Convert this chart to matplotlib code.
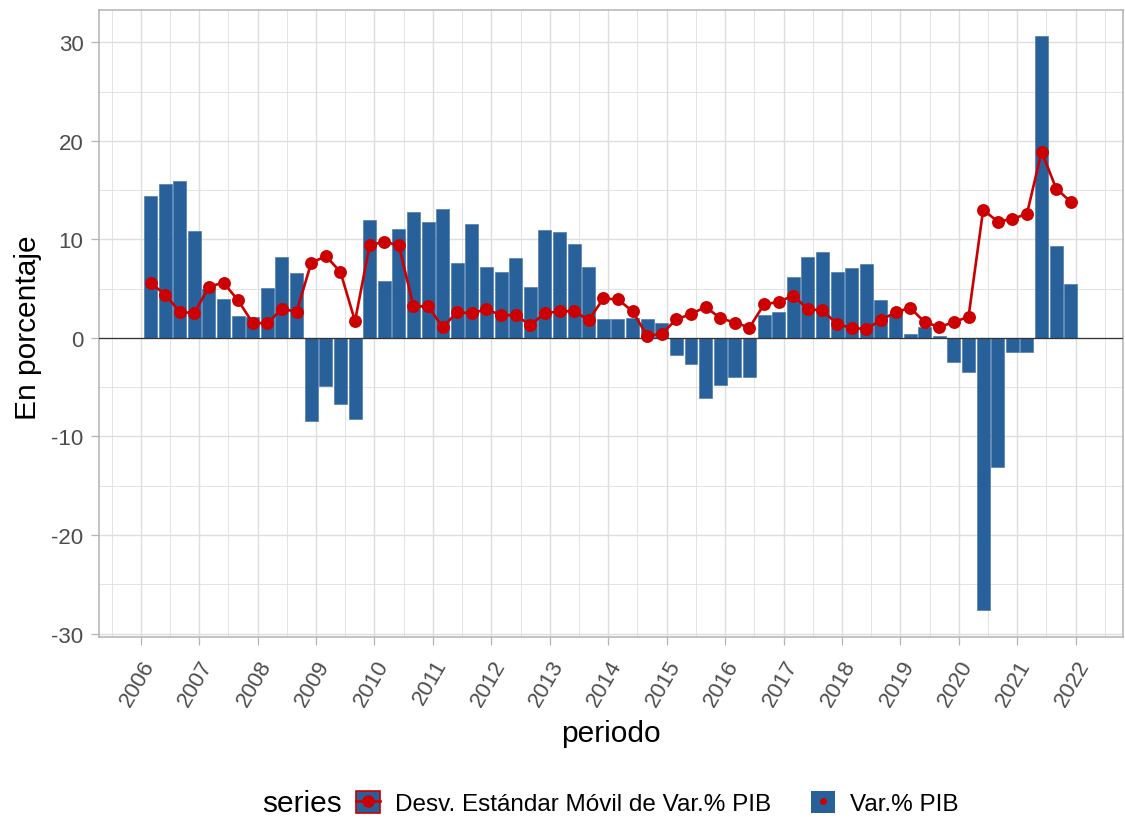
import matplotlib
matplotlib.use("Agg")
import matplotlib.pyplot as plt
from matplotlib.patches import Patch
from matplotlib.lines import Line2D
from matplotlib.ticker import MultipleLocator

plt.rcParams['font.family'] = ['Liberation Sans', 'DejaVu Sans']
plt.rcParams['axes.unicode_minus'] = False

# ---- data -------------------------------------------------------------
years = list(range(2006, 2022))
quarter_months = [3, 6, 9, 12]

var_pib = [
    14.4, 15.6, 15.9, 10.8,
    5.0, 3.9, 2.2, 2.1,
    5.1, 8.2, 6.6, -8.4,
    -4.9, -6.7, -8.2, 11.95,
    5.8, 11.0, 12.8, 11.8,
    13.1, 7.6, 11.6, 7.2,
    6.7, 8.1, 5.15, 10.9,
    10.7, 9.5, 7.2, 1.9,
    1.9, 2.0, 1.95, 1.5,
    -1.75, -2.7, -6.05, -4.75,
    -4.0, -4.0, 2.3, 2.6,
    6.2, 8.2, 8.75, 6.65,
    7.1, 7.45, 3.8, 2.4,
    0.4, 1.1, 0.15, -2.45,
    -3.5, -27.6, -13.1, -1.4,
    -1.4, 30.6, 9.3, 5.45,
]

desv_movil = [
    5.6, 4.4, 2.65, 2.5,
    5.2, 5.6, 3.8, 1.5,
    1.5, 2.95, 2.65, 7.6,
    8.3, 6.7, 1.7, 9.4,
    9.75, 9.4, 3.2, 3.2,
    1.1, 2.6, 2.5, 2.9,
    2.3, 2.3, 1.3, 2.5,
    2.7, 2.7, 1.8, 4.0,
    3.9, 2.7, 0.2, 0.4,
    1.9, 2.4, 3.15, 2.0,
    1.55, 1.05, 3.4, 3.65,
    4.3, 2.9, 2.8, 1.4,
    1.0, 0.9, 1.8, 2.6,
    3.05, 1.6, 1.1, 1.6,
    2.15, 13.0, 11.8, 12.05,
    12.6, 18.9, 15.15, 13.8,
]

year_ticks = list(range(2006, 2023))
serie_labels = ["Desv. Estándar Móvil de Var.% PIB", "Var.% PIB"]

# period positions as decimal years (first day of the quarter's last month)
periodo = [y + (m - 1) / 12 for y in years for m in quarter_months]

# ---- style ------------------------------------------------------------
BAR = "#28609A"
RED = "#CC0000"
GRID = "#DEDEDE"
BORDER = "#B3B3B3"
TXT = "#4D4D4D"

W, H = 1125, 820
fig = plt.figure(figsize=(W / 100, H / 100), dpi=100)
left, right, top, bottom = 98.7, 1123, 10.7, 638
ax = fig.add_axes([left / W, 1 - bottom / H, (right - left) / W, (bottom - top) / H])

ax.bar(periodo, var_pib, width=0.222, color=BAR, edgecolor="#3C6FA3",
       linewidth=0.4, zorder=2)
ax.axhline(0, color="#333333", lw=0.9, zorder=3)
ax.plot(periodo, desv_movil, color=RED, lw=1.9, marker='o', ms=9.3,
        markeredgewidth=0, zorder=4)

ax.set_xlim(2005.28, 2022.81)
ax.set_ylim(-30.35, 33.3)

ax.set_xticks(year_ticks)
ax.set_xticklabels([str(y) for y in year_ticks])
ax.xaxis.set_minor_locator(MultipleLocator(0.5))
ax.yaxis.set_major_locator(MultipleLocator(10))
ax.yaxis.set_minor_locator(MultipleLocator(5))

ax.set_axisbelow(True)
ax.grid(which='major', color=GRID, lw=1.0)
ax.grid(which='minor', color=GRID, lw=0.6)

for s in ax.spines.values():
    s.set_color(BORDER)
    s.set_linewidth(1.1)

ax.tick_params(which='major', length=5.5, width=0.9, color=BORDER,
               labelsize=16, labelcolor=TXT)
ax.tick_params(axis='x', which='major', pad=8)
ax.tick_params(axis='y', which='major', pad=5.5)
ax.tick_params(which='minor', length=0)
for lbl in ax.get_xticklabels():
    lbl.set_rotation(60)
    lbl.set_ha('right')
    lbl.set_va('top')
    lbl.set_rotation_mode('anchor')

fig.text(611 / W, 1 - 734 / H, "periodo", ha='center', va='center', fontsize=21.5)
fig.text(28 / W, 1 - 328 / H, "En porcentaje", ha='center', va='center',
         rotation=90, fontsize=21.5)

# ---- legend -----------------------------------------------------------
h1 = (Patch(facecolor=BAR, edgecolor=RED, linewidth=1.2),
      Line2D([], [], color=RED, lw=1.9, marker='o', ms=9, markeredgewidth=0))
h2 = (Patch(facecolor=BAR, edgecolor='none'),
      Line2D([], [], color=RED, lw=0, marker='o', ms=5, markeredgewidth=0))
fig.legend([h1, h2], serie_labels, loc='center',
           bbox_to_anchor=(657 / W, 1 - 804 / H), ncol=2, frameon=False,
           fontsize=17.5, handlelength=1.0, handleheight=1.0,
           handletextpad=0.6, columnspacing=1.65, borderpad=0,
           borderaxespad=0)
fig.text(262 / W, 1 - 804 / H, "series", ha='left', va='center', fontsize=21.5)

fig.savefig("out.png", dpi=100)
